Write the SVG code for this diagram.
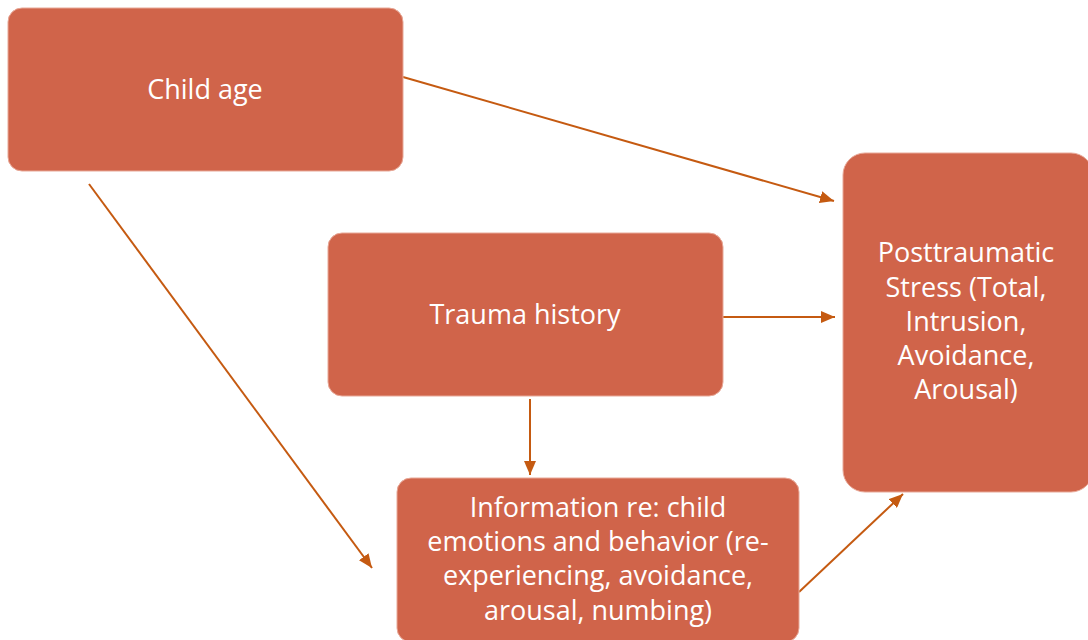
<svg xmlns="http://www.w3.org/2000/svg" width="1088" height="640" viewBox="0 0 1088 640">
<defs>
<style>
.box{fill:#D0644A;stroke:#E8A897;stroke-width:1}
.lbl{fill:#FFFFFF;font-family:"Open Sans","Noto Sans",sans-serif;font-size:27px;text-anchor:middle}
.edge{stroke:#C55A11;stroke-width:2;fill:none;marker-end:url(#ah)}
</style>
<marker id="ah" viewBox="0 0 14 12" refX="14" refY="6" markerWidth="14" markerHeight="12" markerUnits="userSpaceOnUse" orient="auto">
<path d="M0,0 L14,6 L0,12 z" fill="#C55A11"/>
</marker>
</defs>
<rect width="1088" height="640" fill="#FFFFFF"/>
<g id="connectors">
<line class="edge" x1="403" y1="77" x2="834" y2="201"/>
<line class="edge" x1="89" y1="184" x2="372" y2="568"/>
<line class="edge" x1="723" y1="317" x2="835" y2="317"/>
<line class="edge" x1="530" y1="399" x2="530" y2="475"/>
<line class="edge" x1="799" y1="592" x2="903" y2="494"/>
</g>
<g id="child-age">
<rect class="box" x="8" y="8" width="395" height="163" rx="14"/>
<text class="lbl" x="205" y="99">Child age</text>
</g>
<g id="trauma-history">
<rect class="box" x="328" y="233" width="395" height="163" rx="14"/>
<text class="lbl" x="525" y="324">Trauma history</text>
</g>
<g id="information">
<rect class="box" x="397" y="478" width="402" height="164" rx="14"/>
<text class="lbl" x="598" y="517">Information re: child</text>
<text class="lbl" x="598" y="551">emotions and behavior (re-</text>
<text class="lbl" x="598" y="585">experiencing, avoidance,</text>
<text class="lbl" x="598" y="620">arousal, numbing)</text>
</g>
<g id="pts">
<rect class="box" x="843" y="153" width="250" height="339" rx="22"/>
<text class="lbl" x="966" y="262">Posttraumatic</text>
<text class="lbl" x="966" y="297">Stress (Total,</text>
<text class="lbl" x="966" y="331">Intrusion,</text>
<text class="lbl" x="966" y="365">Avoidance,</text>
<text class="lbl" x="966" y="399">Arousal)</text>
</g>
</svg>
